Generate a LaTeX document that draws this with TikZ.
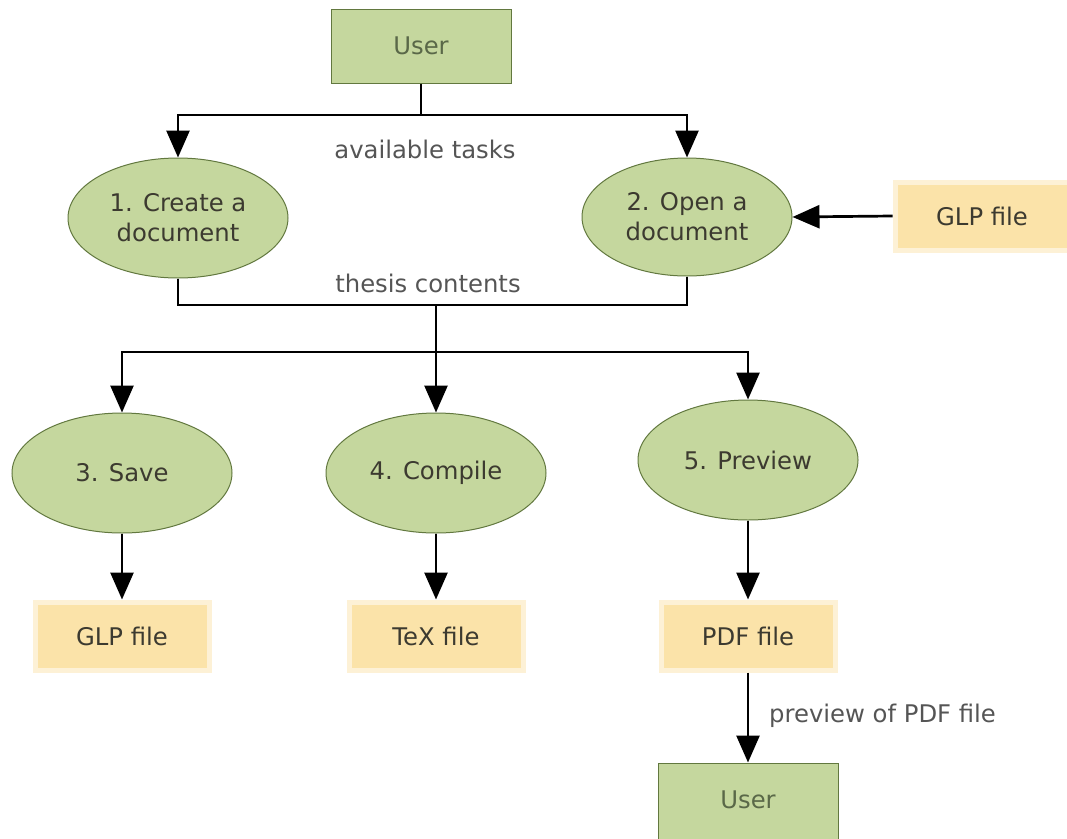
\documentclass[tikz,border=0pt]{standalone}
\usepackage{fontspec}
\setmainfont{DejaVu Sans}
\usetikzlibrary{arrows.meta,shapes.geometric}
\definecolor{procfill}{HTML}{C5D79E}
\definecolor{procedge}{HTML}{62783F}
\definecolor{storefill}{HTML}{FBE3A9}
\definecolor{storeedge}{HTML}{FDF1D6}
\definecolor{txtgreen}{HTML}{5A6848}
\definecolor{txtdark}{HTML}{3C3A30}
\definecolor{lbl}{HTML}{555555}
\tikzset{
  base/.style={font=\fontsize{24.3}{30}\selectfont, align=center, inner sep=0pt},
  actor/.style={base, rectangle, draw=procedge, line width=1pt, fill=procfill,
    text=txtgreen, minimum width=180pt, minimum height=74pt},
  proc/.style={base, ellipse, draw=procedge, line width=1pt, fill=procfill,
    text=txtdark, minimum width=220pt, minimum height=120pt},
  store/.style={base, rectangle, draw=storeedge, line width=5pt, fill=storefill,
    text=txtdark, minimum width=174pt, minimum height=68pt},
  flowlabel/.style={base, text=lbl},
  link/.style={draw=black, line width=2.7pt},
  flow/.style={link, -{Triangle[length=27pt,width=23pt]}},
}
\begin{document}
\begin{tikzpicture}[x=1pt,y=-1pt]
\useasboundingbox (0,0) rectangle (1067,838);
\clip (0,0) rectangle (1067,838);

% external entities
\node[actor] (usertop) at (421,46) {User};
\node[actor, minimum height=80pt] (userbot) at (748,803) {};
\node[base, text=txtgreen] (userbottxt) at (748,800) {User};

% processes
\node[proc] (create) at (178,218) {1. Create a\\document};
\node[proc, minimum width=210pt, minimum height=118pt] (open) at (687,217) {2. Open a\\document};
\node[proc] (save) at (122,473) {3. Save};
\node[proc] (compile) at (436,473) {4. Compile};
\node[proc] (preview) at (748,460) {5. Preview};

% data stores
\node[store] (glpin) at (982,216) {GLP file};
\node[store] (glpout) at (122,636) {GLP file};
\node[store] (texout) at (436,636) {TeX file};
\node[store] (pdfout) at (748,636) {PDF file};

% junction points
\coordinate (tasks) at (421,115);
\coordinate (thesis) at (436,305);
\coordinate (split) at (436,352);

% user to the two start tasks
\draw[link] (usertop.south) -- (tasks);
\draw[flow] (tasks) -| (create.north);
\draw[flow] (tasks) -| (open.north);
\node[flowlabel] (tasklbl) at (425,149) {available tasks};

% existing file opened
\draw[flow] (glpin.west) -- (open.east);

% both tasks feed the thesis contents
\draw[link] (create.south) |- (thesis);
\draw[link] (open.south) |- (thesis);
\draw[link] (thesis) -- (split);
\node[flowlabel] (thesislbl) at (428,283) {thesis contents};

% thesis contents to the three output tasks
\draw[flow] (split) -| (save.north);
\draw[flow] (split) -- (compile.north);
\draw[flow] (split) -| (preview.north);

% outputs
\draw[flow] (save.south) -- (glpout.north);
\draw[flow] (compile.south) -- (texout.north);
\draw[flow] (preview.south) -- (pdfout.north);
\draw[flow] (pdfout.south) -- (userbot.north);
\node[flowlabel, anchor=west] (pdflbl) at (769,716) {preview of PDF file};
\end{tikzpicture}
\end{document}
